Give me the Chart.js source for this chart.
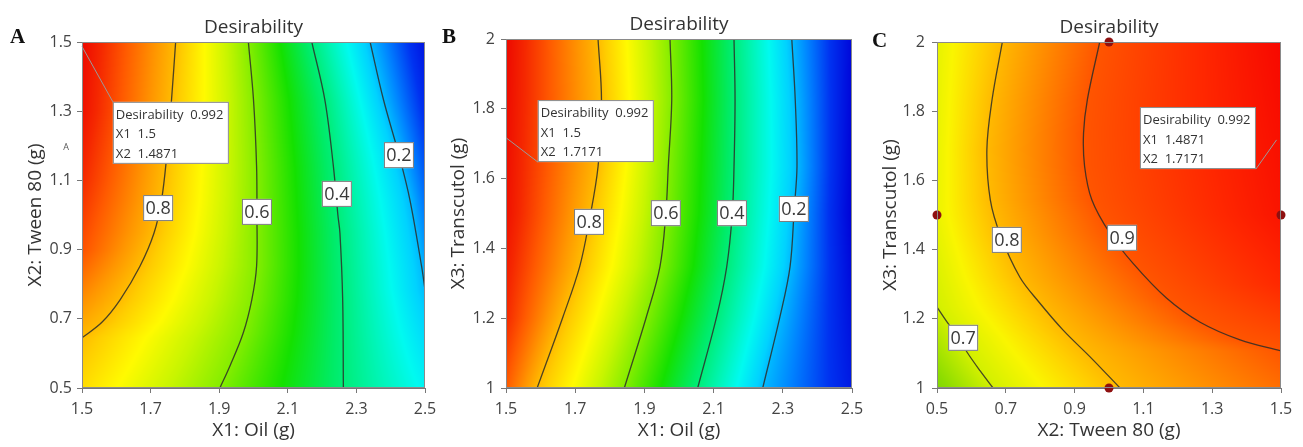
<!DOCTYPE html>
<html lang="en">
<head>
<meta charset="UTF-8">
<title>Desirability contour plots</title>
<script src="https://cdn.jsdelivr.net/npm/chart.js"></script>
<style>
  body { margin: 0; background: #fff; }
  #wrap { position: relative; width: 1303px; height: 447px; overflow: hidden; }
  #wrap canvas { position: absolute; top: 0; }
</style>
</head>
<body>
<div id="wrap">
  <canvas id="cA" width="460" height="447" style="left:0"></canvas>
  <canvas id="cB" width="460" height="447" style="left:430px"></canvas>
  <canvas id="cC" width="443" height="447" style="left:860px"></canvas>
</div>

<script>
// ---- Panel A : X1 Oil vs X2 Tween 80 ----
const aXTicks = [1.5, 1.7, 1.9, 2.1, 2.3, 2.5];
const aYTicks = [0.5, 0.7, 0.9, 1.1, 1.3, 1.5];
const aLevels = [0.8, 0.6, 0.4, 0.2];
const aLines = [
  [[1.773, 1.5], [1.761, 1.333], [1.747, 1.17], [1.732, 1.044], [1.710, 0.948], [1.669, 0.852], [1.611, 0.755], [1.558, 0.690], [1.5, 0.645]],
  [[1.985, 1.5], [2.000, 1.333], [2.009, 1.14], [2.010, 1.0], [2.009, 0.852], [1.995, 0.755], [1.970, 0.659], [1.931, 0.563], [1.902, 0.5]],
  [[2.170, 1.5], [2.208, 1.333], [2.233, 1.14], [2.246, 1.0], [2.252, 0.948], [2.260, 0.755], [2.262, 0.5]],
  [[2.340, 1.5], [2.379, 1.333], [2.425, 1.17], [2.456, 1.044], [2.490, 0.852], [2.5, 0.784]]
];
const aLabelPos = [[1.722, 1.020], [2.010, 1.009], [2.243, 1.061], [2.424, 1.173]];
// desirability along the left / right edge: [y, value]
const aLeftEdge = [[0.5, 0.76], [0.645, 0.8], [0.9, 0.91], [1.1, 0.95], [1.3, 0.98], [1.5, 0.99]];
const aRightEdge = [[0.5, 0.27], [0.784, 0.2], [0.9, 0.17], [1.1, 0.12], [1.3, 0.07], [1.5, 0.03]];
const aOptimum = [1.5, 1.4871];
const aReadout = ['Desirability  0.992', 'X1  1.5', 'X2  1.4871'];

// ---- Panel B : X1 Oil vs X3 Transcutol ----
const bXTicks = [1.5, 1.7, 1.9, 2.1, 2.3, 2.5];
const bYTicks = [1, 1.2, 1.4, 1.6, 1.8, 2];
const bLevels = [0.8, 0.6, 0.4, 0.2];
const bLines = [
  [[1.766, 2.0], [1.776, 1.825], [1.766, 1.634], [1.740, 1.476], [1.713, 1.348], [1.665, 1.205], [1.590, 1.0]],
  [[1.974, 2.0], [1.979, 1.825], [1.969, 1.634], [1.962, 1.5], [1.945, 1.348], [1.906, 1.205], [1.842, 1.0]],
  [[2.159, 2.0], [2.162, 1.825], [2.159, 1.634], [2.154, 1.5], [2.138, 1.348], [2.109, 1.205], [2.054, 1.0]],
  [[2.326, 2.0], [2.336, 1.825], [2.341, 1.634], [2.333, 1.513], [2.321, 1.348], [2.292, 1.205], [2.242, 1.0]]
];
const bLabelPos = [[1.740, 1.476], [1.962, 1.501], [2.153, 1.501], [2.332, 1.513]];
const bLeftEdge = [[1.0, 0.90], [1.2, 0.95], [1.5, 0.98], [2.0, 0.99]];
const bRightEdge = [[1.0, 0.04], [1.5, 0.0], [2.0, 0.01]];
const bOptimum = [1.5, 1.7171];
const bReadout = ['Desirability  0.992', 'X1  1.5', 'X2  1.7171'];

// ---- Panel C : X2 Tween 80 vs X3 Transcutol ----
const cXTicks = [0.5, 0.7, 0.9, 1.1, 1.3, 1.5];
const cYTicks = [1, 1.2, 1.4, 1.6, 1.8, 2];
const cLevels = [0.7, 0.8, 0.9];
const cLines = [
  [[0.5, 1.234], [0.53, 1.19], [0.56, 1.15], [0.587, 1.104], [0.625, 1.05], [0.663, 1.0]],
  [[0.690, 2.0], [0.660, 1.833], [0.645, 1.689], [0.655, 1.544], [0.685, 1.440], [0.741, 1.320], [0.795, 1.250], [0.866, 1.168], [0.950, 1.085], [1.032, 1.0]],
  [[0.973, 2.0], [0.937, 1.833], [0.926, 1.737], [0.929, 1.641], [0.950, 1.544], [1.002, 1.448], [1.070, 1.360], [1.167, 1.260], [1.265, 1.190], [1.381, 1.139], [1.5, 1.107]]
];
const cLabelPos = [[0.576, 1.145], [0.703, 1.428], [1.038, 1.434]];
const cLeftEdge = [[1.0, 0.65], [1.234, 0.70], [1.5, 0.725], [2.0, 0.72]];
const cRightEdge = [[1.0, 0.875], [1.107, 0.9], [1.3, 0.95], [1.5, 0.975], [2.0, 0.99]];
const cDesignX = [1.0, 0.5, 1.5, 1.0];
const cDesignY = [2.0, 1.5, 1.5, 1.0];
const cOptimum = [1.4871, 1.7171];
const cReadout = ['Desirability  0.992', 'X1  1.4871', 'X2  1.7171'];

// colour ramps (value -> rgb)
const rampWide = [
  [0.00, [0, 0, 215]], [0.08, [0, 50, 240]], [0.15, [0, 130, 255]], [0.22, [0, 210, 255]],
  [0.28, [0, 250, 240]], [0.34, [0, 245, 180]], [0.42, [0, 235, 100]], [0.50, [20, 225, 0]],
  [0.58, [110, 235, 0]], [0.66, [200, 245, 0]], [0.72, [255, 250, 0]], [0.78, [255, 205, 0]],
  [0.84, [255, 150, 0]], [0.90, [255, 90, 0]], [0.95, [245, 40, 0]], [1.00, [235, 0, 0]]
];
const rampNarrow = [
  [0.62, [90, 200, 20]], [0.66, [140, 220, 0]], [0.70, [210, 240, 0]], [0.74, [250, 245, 0]],
  [0.78, [255, 205, 0]], [0.82, [255, 165, 0]], [0.86, [255, 125, 0]], [0.90, [255, 85, 0]],
  [0.95, [255, 40, 0]], [1.00, [245, 0, 0]]
];

const FONT = '"Open Sans", "DejaVu Sans", sans-serif';

function lerpTable(tab, t) {
  if (t <= tab[0][0]) return tab[0][1];
  for (let i = 1; i < tab.length; i++) {
    if (t <= tab[i][0]) {
      const a = tab[i - 1], b = tab[i];
      return a[1] + (b[1] - a[1]) * (t - a[0]) / (b[0] - a[0]);
    }
  }
  return tab[tab.length - 1][1];
}

function colorOf(ramp, v) {
  if (v <= ramp[0][0]) return ramp[0][1];
  for (let i = 1; i < ramp.length; i++) {
    if (v <= ramp[i][0]) {
      const a = ramp[i - 1], b = ramp[i];
      const f = (v - a[0]) / (b[0] - a[0]);
      return [0, 1, 2].map(k => a[1][k] + (b[1][k] - a[1][k]) * f);
    }
  }
  return ramp[ramp.length - 1][1];
}

// x where a contour polyline crosses the row y (or null)
function crossing(line, yv) {
  for (let i = 0; i < line.length - 1; i++) {
    const a = line[i], b = line[i + 1];
    if ((a[1] - yv) * (b[1] - yv) <= 0 && a[1] !== b[1]) {
      return a[0] + (b[0] - a[0]) * (yv - a[1]) / (b[1] - a[1]);
    }
  }
  return null;
}

function panelPlugin(p) {
  return {
    id: 'panel' + p.name,
    beforeDatasetsDraw(chart) {
      // colour field, filled row by row between the contour lines
      const { ctx, chartArea: ca, scales: { x, y } } = chart;
      const w = Math.round(ca.right - ca.left), h = Math.round(ca.bottom - ca.top);
      const off = document.createElement('canvas');
      off.width = w; off.height = h;
      const octx = off.getContext('2d');
      const img = octx.createImageData(w, h);
      for (let r = 0; r < h; r++) {
        const yv = y.getValueForPixel(ca.top + r + 0.5);
        const knots = [[x.min, lerpTable(p.leftEdge, yv)]];
        p.lines.forEach((ln, i) => {
          const cx = crossing(ln, yv);
          if (cx !== null) knots.push([cx, p.levels[i]]);
        });
        knots.push([x.max, lerpTable(p.rightEdge, yv)]);
        knots.sort((a, b) => a[0] - b[0]);
        for (let c = 0; c < w; c++) {
          const xv = x.getValueForPixel(ca.left + c + 0.5);
          const col = colorOf(p.ramp, lerpTable(knots, xv));
          const k = (r * w + c) * 4;
          img.data[k] = col[0]; img.data[k + 1] = col[1]; img.data[k + 2] = col[2]; img.data[k + 3] = 255;
        }
      }
      octx.putImageData(img, 0, 0);
      ctx.drawImage(off, ca.left, ca.top);
    },
    afterDatasetsDraw(chart) {
      const { ctx, chartArea: ca, scales: { x, y } } = chart;
      ctx.save();
      ctx.strokeStyle = '#8a8a8a';
      ctx.lineWidth = 1;
      ctx.strokeRect(ca.left + 0.5, ca.top + 0.5, ca.right - ca.left - 1, ca.bottom - ca.top - 1);

      // contour labels
      ctx.font = '18px ' + FONT;
      ctx.textAlign = 'center';
      ctx.textBaseline = 'middle';
      p.labelPos.forEach((lp, i) => {
        const px = x.getPixelForValue(lp[0]), py = y.getPixelForValue(lp[1]);
        ctx.fillStyle = '#fff';
        ctx.fillRect(px - 15, py - 13, 30, 26);
        ctx.strokeStyle = '#7a7a7a';
        ctx.strokeRect(px - 14.5, py - 12.5, 29, 25);
        ctx.fillStyle = '#3a3a3a';
        ctx.fillText(String(p.levels[i]), px, py + 1);
      });

      // optimum readout box and leader line
      const bx = x.getPixelForValue(p.boxAt[0]), by = y.getPixelForValue(p.boxAt[1]);
      const bw = 116, bh = 62;
      const corner = { tl: [bx, by], bl: [bx, by + bh], br: [bx + bw, by + bh] }[p.anchor];
      ctx.strokeStyle = '#9a9a9a';
      ctx.beginPath();
      ctx.moveTo(x.getPixelForValue(p.optimum[0]), y.getPixelForValue(p.optimum[1]));
      ctx.lineTo(corner[0], corner[1]);
      ctx.stroke();
      ctx.fillStyle = '#fff';
      ctx.fillRect(bx, by, bw, bh);
      ctx.strokeStyle = '#8a8a8a';
      ctx.strokeRect(bx + 0.5, by + 0.5, bw - 1, bh - 1);
      ctx.fillStyle = '#333';
      ctx.font = '13px ' + FONT;
      ctx.textAlign = 'left';
      ctx.textBaseline = 'alphabetic';
      p.readout.forEach((t, i) => ctx.fillText(t, bx + 3, by + 17 + i * 19.5));

      if (p.extraText) {
        ctx.font = '9px ' + FONT;
        ctx.fillStyle = '#555';
        ctx.textAlign = 'center';
        ctx.fillText(p.extraText, ca.left - 16, y.getPixelForValue(1.2) + 4);
      }
      ctx.restore();
    },
    afterDraw(chart) {
      const { ctx, chartArea: ca } = chart;
      ctx.save();
      ctx.fillStyle = '#333';
      ctx.font = '19px ' + FONT;
      ctx.textAlign = 'center';
      ctx.textBaseline = 'alphabetic';
      ctx.fillText('Desirability', (ca.left + ca.right) / 2, ca.top - 9);
      ctx.fillStyle = '#111';
      ctx.font = 'bold 21px "Liberation Serif", "Times New Roman", serif';
      ctx.textAlign = 'left';
      ctx.fillText(p.name, p.letterAt[0], p.letterAt[1]);
      ctx.restore();
    }
  };
}

function tickLabel(v) { return String(Number(v.toFixed(2))); }

function buildChart(id, p) {
  const datasets = p.lines.map(ln => ({
    data: ln.map(pt => ({ x: pt[0], y: pt[1] })),
    showLine: true,
    borderColor: 'rgba(45,45,40,0.85)',
    borderWidth: 1.3,
    pointRadius: 0,
    tension: 0.35
  }));
  if (p.designX) {
    datasets.push({
      data: p.designX.map((v, i) => ({ x: v, y: p.designY[i] })),
      showLine: false,
      pointRadius: 4.5,
      backgroundColor: '#8e1010',
      borderWidth: 0,
      clip: false
    });
  }
  const axis = (ticks, min, max, title, isY) => ({
    type: 'linear', min: min, max: max,
    afterBuildTicks: s => { s.ticks = ticks.map(v => ({ value: v })); },
    afterFit: s => { if (isY) s.width = p.yWidth; else s.height = 59; },
    ticks: {
      callback: v => tickLabel(v),
      color: '#444',
      font: { family: FONT, size: 16 },
      padding: isY ? p.yTickPad : 7,
      maxRotation: 0
    },
    grid: { drawOnChartArea: false, drawTicks: true, tickLength: 5, color: '#777' },
    border: { display: true, color: '#777' },
    title: {
      display: true, text: title, color: '#333',
      font: { family: FONT, size: 19 },
      padding: isY ? { top: p.yTitlePad, bottom: 0 } : { top: 0, bottom: 5 }
    }
  });
  return new Chart(document.getElementById(id), {
    type: 'scatter',
    data: { datasets: datasets },
    options: {
      responsive: false,
      animation: false,
      events: [],
      layout: { padding: { left: 0, right: p.padRight, top: p.padTop, bottom: 0 } },
      plugins: { legend: { display: false }, tooltip: { enabled: false } },
      scales: {
        x: axis(p.xTicks, p.xTicks[0], p.xTicks[p.xTicks.length - 1], p.xTitle, false),
        y: axis(p.yTicks, p.yTicks[0], p.yTicks[p.yTicks.length - 1], p.yTitle, true)
      }
    },
    plugins: [panelPlugin(p)]
  });
}

buildChart('cA', {
  name: 'A', xTicks: aXTicks, yTicks: aYTicks, levels: aLevels, lines: aLines,
  labelPos: aLabelPos, leftEdge: aLeftEdge, rightEdge: aRightEdge, ramp: rampWide,
  optimum: aOptimum, readout: aReadout, boxAt: [1.590, 1.327], anchor: 'tl',
  xTitle: 'X1: Oil (g)', yTitle: 'X2: Tween 80 (g)',
  yWidth: 82, yTickPad: 5, yTitlePad: 24, padRight: 35, padTop: 42,
  letterAt: [10, 43], extraText: 'A'
});

buildChart('cB', {
  name: 'B', xTicks: bXTicks, yTicks: bYTicks, levels: bLevels, lines: bLines,
  labelPos: bLabelPos, leftEdge: bLeftEdge, rightEdge: bRightEdge, ramp: rampWide,
  optimum: bOptimum, readout: bReadout, boxAt: [1.592, 1.825], anchor: 'bl',
  xTitle: 'X1: Oil (g)', yTitle: 'X3: Transcutol (g)',
  yWidth: 76, yTickPad: 6, yTitlePad: 17, padRight: 38, padTop: 39,
  letterAt: [12, 43]
});

buildChart('cC', {
  name: 'C', xTicks: cXTicks, yTicks: cYTicks, levels: cLevels, lines: cLines,
  labelPos: cLabelPos, leftEdge: cLeftEdge, rightEdge: cRightEdge, ramp: rampNarrow,
  optimum: cOptimum, readout: cReadout, boxAt: [1.090, 1.812], anchor: 'br',
  designX: cDesignX, designY: cDesignY,
  xTitle: 'X2: Tween 80 (g)', yTitle: 'X3: Transcutol (g)',
  yWidth: 77, yTickPad: 7, yTitlePad: 19, padRight: 22, padTop: 42,
  letterAt: [12, 47]
});
</script>
</body>
</html>
